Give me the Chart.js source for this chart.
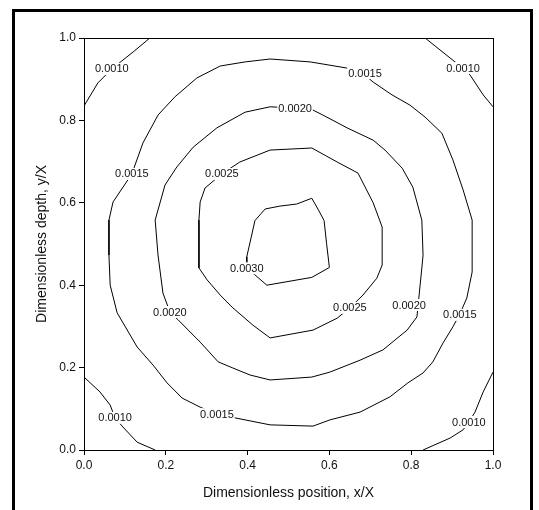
<!DOCTYPE html>
<html>
<head>
<meta charset="utf-8">
<script src="https://cdn.jsdelivr.net/npm/chart.js@4"></script>
<style>
  html, body { margin: 0; padding: 0; background: #fff; }
  #wrap { position: relative; width: 539px; height: 510px; overflow: hidden; }
  #frame { position: absolute; left: 12px; top: 9px; width: 521px; height: 530px; border: 3px solid #000; box-sizing: border-box; pointer-events: none; }
  #chart { position: absolute; left: 0; top: 0; }
</style>
</head>
<body>
<div id="wrap">
  <canvas id="chart" width="539" height="510"></canvas>
  <div id="frame"></div>
</div>
<script>
// contour lines, [x/X, y/X]
const c0030 = [[0.557,0.611],[0.520,0.597],[0.479,0.592],[0.443,0.585],[0.418,0.557],[0.398,0.469],[0.398,0.441],[0.418,0.425],[0.447,0.400],[0.557,0.419],[0.600,0.443],[0.593,0.502],[0.587,0.557],[0.573,0.583],[0.557,0.611]];
const c0025 = [[0.455,0.728],[0.381,0.699],[0.337,0.670],[0.296,0.636],[0.284,0.602],[0.281,0.558],[0.281,0.442],[0.301,0.413],[0.333,0.376],[0.364,0.345],[0.413,0.303],[0.455,0.272],[0.560,0.291],[0.619,0.320],[0.650,0.345],[0.682,0.376],[0.716,0.417],[0.729,0.449],[0.729,0.541],[0.707,0.600],[0.670,0.672],[0.619,0.699],[0.557,0.733],[0.455,0.728]];
const c0020 = [[0.455,0.833],[0.394,0.820],[0.325,0.782],[0.267,0.735],[0.227,0.687],[0.198,0.643],[0.174,0.558],[0.181,0.473],[0.193,0.381],[0.210,0.335],[0.230,0.316],[0.284,0.262],[0.328,0.214],[0.364,0.199],[0.406,0.182],[0.455,0.170],[0.557,0.177],[0.601,0.189],[0.675,0.218],[0.731,0.243],[0.790,0.291],[0.814,0.323],[0.826,0.442],[0.829,0.473],[0.826,0.558],[0.804,0.638],[0.778,0.684],[0.736,0.728],[0.707,0.752],[0.643,0.782],[0.584,0.813],[0.560,0.825],[0.516,0.830],[0.455,0.833]];
const c0015 = [[0.455,0.949],[0.394,0.942],[0.333,0.932],[0.276,0.903],[0.222,0.857],[0.181,0.813],[0.144,0.745],[0.117,0.670],[0.071,0.602],[0.061,0.558],[0.061,0.473],[0.064,0.400],[0.081,0.333],[0.130,0.250],[0.169,0.206],[0.203,0.163],[0.240,0.126],[0.284,0.104],[0.325,0.087],[0.369,0.078],[0.455,0.061],[0.560,0.058],[0.601,0.073],[0.675,0.092],[0.748,0.129],[0.792,0.163],[0.829,0.187],[0.853,0.214],[0.878,0.260],[0.902,0.299],[0.919,0.330],[0.936,0.369],[0.949,0.432],[0.949,0.558],[0.927,0.631],[0.902,0.704],[0.875,0.769],[0.834,0.808],[0.797,0.837],[0.753,0.862],[0.707,0.893],[0.687,0.910],[0.643,0.927],[0.553,0.942],[0.455,0.949]];
const c0010tl = [[0.161,1.0],[0.120,0.966],[0.068,0.925],[0.034,0.891],[0.0,0.835]];
const c0010tr = [[0.834,1.0],[0.907,0.942],[0.927,0.927],[0.944,0.910],[0.976,0.862],[1.0,0.833]];
const c0010bl = [[0.0,0.177],[0.039,0.141],[0.064,0.109],[0.076,0.078],[0.095,0.056],[0.130,0.019],[0.174,0.0]];
const c0010br = [[1.0,0.189],[0.976,0.141],[0.956,0.092],[0.941,0.068],[0.927,0.049],[0.895,0.029],[0.829,0.0]];

const contours = [c0030, c0025, c0020, c0015, c0010tl, c0010tr, c0010bl, c0010br];

// inline contour labels
const labelText = ['0.0010','0.0015','0.0025','0.0020','0.0015','0.0010','0.0030','0.0020','0.0025','0.0020','0.0015','0.0010','0.0015','0.0010'];
const labelX    = [0.068, 0.117, 0.337, 0.516, 0.687, 0.927, 0.398, 0.210, 0.650, 0.795, 0.919, 0.076, 0.325, 0.941];
const labelY    = [0.925, 0.670, 0.670, 0.830, 0.915, 0.927, 0.441, 0.335, 0.345, 0.352, 0.328, 0.078, 0.087, 0.068];

const fontFamily = '"Liberation Sans", Arial, Helvetica, sans-serif';
Chart.defaults.font.family = fontFamily;
Chart.defaults.color = '#111';

const labelPlugin = {
  id: 'contourLabels',
  afterDatasetsDraw(chart) {
    const {ctx, scales: {x, y}} = chart;
    ctx.save();
    ctx.font = '11px ' + fontFamily;
    ctx.textAlign = 'center';
    ctx.textBaseline = 'middle';
    labelText.forEach((t, i) => {
      const px = x.getPixelForValue(labelX[i]);
      const py = y.getPixelForValue(labelY[i]);
      const w = ctx.measureText(t).width;
      ctx.fillStyle = '#fff';
      ctx.fillRect(px - w / 2 - 1, py - 6, w + 2, 12);
      ctx.fillStyle = '#111';
      ctx.fillText(t, px, py + 0.5);
    });
    ctx.restore();
  }
};

const boxPlugin = {
  id: 'plotBox',
  afterDraw(chart) {
    const a = chart.chartArea;
    const ctx = chart.ctx;
    ctx.save();
    ctx.strokeStyle = '#000';
    ctx.lineWidth = 1;
    ctx.strokeRect(Math.round(a.left) + 0.5, Math.round(a.top) + 0.5, Math.round(a.right - a.left), Math.round(a.bottom - a.top));
    ctx.restore();
  }
};

const datasets = contours.map(c => ({
  data: c.map(p => ({x: p[0], y: p[1]})),
  showLine: true,
  borderColor: '#000',
  borderWidth: 1,
  pointRadius: 0,
  tension: 0,
  fill: false
}));

new Chart(document.getElementById('chart').getContext('2d'), {
  type: 'scatter',
  data: { datasets },
  options: {
    responsive: false,
    animation: false,
    layout: { padding: { left: 30, top: 38, right: 46, bottom: 0 } },
    plugins: { legend: { display: false }, tooltip: { enabled: false } },
    scales: {
      x: {
        type: 'linear', min: 0, max: 1,
        ticks: { stepSize: 0.2, callback: v => v.toFixed(1), font: { size: 12 }, padding: 3, maxRotation: 0, color: '#111' },
        grid: { drawOnChartArea: false, drawTicks: true, tickLength: 5, color: '#000' },
        border: { display: true, color: '#000' },
        title: { display: true, text: 'Dimensionless position, x/X', font: { size: 14 }, color: '#111', padding: { top: 4, bottom: 8 } },
        afterFit(s) { s.height = 60; }
      },
      y: {
        type: 'linear', min: 0, max: 1,
        ticks: { stepSize: 0.2, callback: v => v.toFixed(1), font: { size: 12 }, padding: 3, color: '#111' },
        grid: { drawOnChartArea: false, drawTicks: true, tickLength: 5, color: '#000' },
        border: { display: true, color: '#000' },
        title: { display: true, text: 'Dimensionless depth, y/X', font: { size: 14 }, color: '#111', padding: { top: 4, bottom: 4 } },
        afterFit(s) { s.width = 54; }
      }
    }
  },
  plugins: [labelPlugin, boxPlugin]
});
</script>
</body>
</html>
